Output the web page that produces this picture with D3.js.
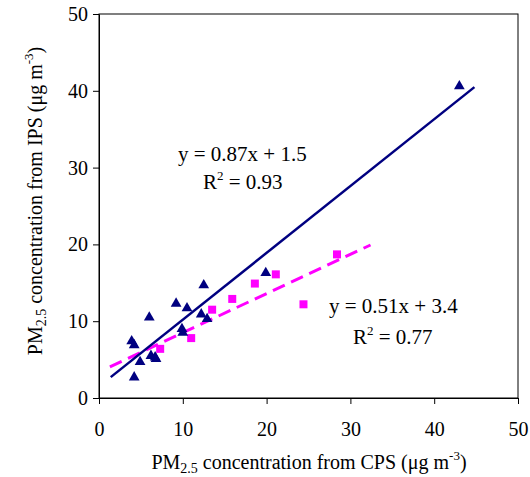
<!DOCTYPE html>
<html>
<head>
<meta charset="utf-8">
<script src="https://cdn.jsdelivr.net/npm/d3@7"></script>
<style>
  body { margin: 0; background: #fff; }
  text { font-family: "Liberation Serif", "Times New Roman", serif; fill: #000; }
</style>
</head>
<body>
<div id="chart"></div>
<script>
// IPS vs CPS scatter

var ipsX = [3.9, 4.2, 4.2, 4.9, 6.0, 6.2, 6.7, 6.8, 9.2, 9.9, 10.0, 10.5, 12.2, 12.5, 12.9, 19.9, 43.0];
var ipsY = [7.6, 7.1, 2.9, 4.9, 10.7, 5.7, 5.5, 5.3, 12.5, 9.2, 8.7, 11.9, 11.1, 14.9, 10.5, 16.5, 40.8];

var cpsX = [7.3, 11.0, 13.5, 15.9, 18.6, 21.1, 24.4, 28.4];
var cpsY = [6.4, 7.8, 11.5, 12.9, 14.9, 16.1, 12.2, 18.7];

// fitted lines: [slope, intercept, xStart, xEnd]
var fitIPS = [0.87, 1.5, 1.4, 44.8];
var fitCPS = [0.51, 3.4, 1.3, 32.4];

var xTicks = [0, 10, 20, 30, 40, 50];
var yTicks = [0, 10, 20, 30, 40, 50];

var svgWidth = 530;
var svgHeight = 477;

var margin = {
    top: 14,
    right: 12,
    bottom: 79,
    left: 99
};

var width = svgWidth - margin.left - margin.right;
var height = svgHeight - margin.top - margin.bottom;

var svg = d3.select("#chart")
    .append("svg")
    .attr("width", svgWidth)
    .attr("height", svgHeight);

var g = svg.append("g")
    .attr("transform", `translate(${margin.left}, ${margin.top})`);

var x = d3.scaleLinear().domain([0, 50]).range([0, width]);
var y = d3.scaleLinear().domain([0, 50]).range([height, 0]);

// frame
g.append("rect")
    .attr("width", width)
    .attr("height", height)
    .attr("fill", "none")
    .attr("stroke", "#000")
    .attr("stroke-width", 1);

var xAxis = g.append("g")
    .attr("transform", `translate(0, ${height})`)
    .call(d3.axisBottom(x).tickValues(xTicks).tickSize(6).tickPadding(18).tickSizeOuter(0));

var yAxis = g.append("g")
    .call(d3.axisLeft(y).tickValues(yTicks).tickSize(6).tickPadding(5).tickSizeOuter(0));

g.selectAll(".domain").attr("stroke", "#000");
g.selectAll(".tick line").attr("stroke", "#000");
g.selectAll(".tick text")
    .style("font-family", "Liberation Serif, serif")
    .style("font-size", "20px");

// regression lines
function drawFit(fit, color, dash, w) {
    var pts = [fit[2], fit[3]].map(v => [x(v), y(fit[0] * v + fit[1])]);
    g.append("path")
        .attr("d", d3.line()(pts))
        .attr("stroke", color)
        .attr("stroke-width", w)
        .attr("stroke-dasharray", dash)
        .attr("fill", "none");
}
drawFit(fitCPS, "#ff00ff", "13,7", 3);
drawFit(fitIPS, "#000080", null, 2.5);

// markers
g.selectAll(".sq")
    .data(cpsX)
    .enter()
    .append("path")
    .attr("d", d3.symbol().type(d3.symbolSquare).size(64))
    .attr("transform", (d, i) => `translate(${x(d)}, ${y(cpsY[i])})`)
    .attr("fill", "#ff00ff");

// d3 triangles sit on their centroid, nudge so the box is centred
var triSize = 50;
var triShift = Math.sqrt(triSize * 4 / Math.sqrt(3)) * Math.sqrt(3) / 12;
g.selectAll(".tri")
    .data(ipsX)
    .enter()
    .append("path")
    .attr("d", d3.symbol().type(d3.symbolTriangle).size(triSize))
    .attr("transform", (d, i) => `translate(${x(d)}, ${y(ipsY[i]) + triShift})`)
    .attr("fill", "#000080");

// equations
function equation(px, py, txt, r2x, r2y, r2) {
    svg.append("text")
        .attr("x", px).attr("y", py)
        .style("font-size", "21px")
        .text(txt);
    var t = svg.append("text")
        .attr("x", r2x).attr("y", r2y)
        .style("font-size", "21px");
    t.append("tspan").text("R");
    t.append("tspan").attr("dy", -9).style("font-size", "13px").text("2");
    t.append("tspan").attr("dy", 9).text(" = " + r2);
}
equation(178, 161, "y = 0.87x + 1.5", 203, 189, "0.93");
equation(329, 313, "y = 0.51x + 3.4", 353, 344, "0.77");

// axis titles
function pmTitle(sel, tail) {
    sel.append("tspan").text("PM");
    sel.append("tspan").attr("dy", 4).style("font-size", "14px").text("2.5");
    sel.append("tspan").attr("dy", -4).text(" concentration from " + tail + " (\u03bcg m");
    sel.append("tspan").attr("dy", -9).style("font-size", "13px").text("-3");
    sel.append("tspan").attr("dy", 9).text(")");
}

var xLabel = svg.append("text")
    .attr("x", 309)
    .attr("y", 469)
    .attr("text-anchor", "middle")
    .style("font-size", "20px");
pmTitle(xLabel, "CPS");

var yLabel = svg.append("text")
    .attr("transform", "translate(42, 201) rotate(-90)")
    .attr("text-anchor", "middle")
    .style("font-size", "20px");
pmTitle(yLabel, "IPS");
</script>
</body>
</html>
